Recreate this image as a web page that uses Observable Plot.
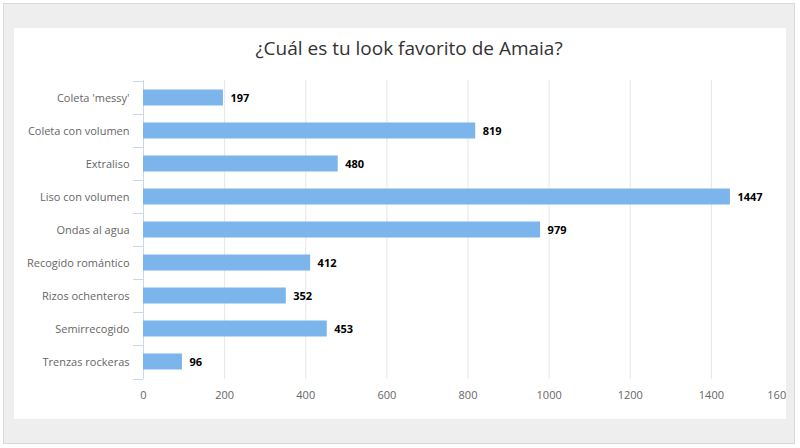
<!DOCTYPE html>
<html>
<head>
<meta charset="utf-8">
<script src="https://cdn.jsdelivr.net/npm/d3@7"></script>
<script src="https://cdn.jsdelivr.net/npm/@observablehq/plot@0.6"></script>
<style>
  html, body { margin: 0; padding: 0; background: #fff; }
  body { width: 800px; height: 448px; position: relative; overflow: hidden; font-family: "Open Sans", sans-serif; }
  #outer { position: absolute; left: 3px; top: 3px; width: 790px; height: 439px; background: #eeeeee; border: 1px solid #d9d9d9; }
  #panel { position: absolute; left: 14px; top: 28px; width: 772px; height: 391px; background: #fff; overflow: hidden; }
  #title { width: 790px; height: 40px; line-height: 40px; text-align: center; font-size: 19px; color: #333; white-space: nowrap; }
  #chart { width: 790px; }
  #chart svg { display: block; max-width: none !important; }
</style>
</head>
<body>
<div id="outer"></div>
<div id="panel">
  <div id="title">¿Cuál es tu look favorito de Amaia?</div>
  <div id="chart"></div>
</div>
<script>
const categories = ["Coleta 'messy'", "Coleta con volumen", "Extraliso", "Liso con volumen", "Ondas al agua", "Recogido romántico", "Rizos ochenteros", "Semirrecogido", "Trenzas rockeras"];
const values = [197, 819, 480, 1447, 979, 412, 352, 453, 96];
const xTicks = [0, 200, 400, 600, 800, 1000, 1200, 1400, 1600];

const data = categories.map((c, i) => ({cat: c, value: values[i]}));

const bandTicks = (index, scales, vals, dimensions) => {
  const g = d3.create("svg:g");
  const ys = categories.map(c => scales.y(c));
  ys.push(dimensions.height - dimensions.marginBottom);
  const x0 = scales.x(0);
  g.selectAll("line").data(ys).join("line")
    .attr("x1", x0 - 10).attr("x2", x0)
    .attr("y1", d => d + 0.5).attr("y2", d => d + 0.5)
    .attr("stroke", "#ccd6eb");
  return g.node();
};

const lastTick = xTicks[xTicks.length - 1];

const chart = Plot.plot({
  width: 790,
  height: 351,
  marginLeft: 129,
  marginRight: 12,
  marginTop: 12,
  marginBottom: 40,
  style: {fontFamily: "'Open Sans', sans-serif", fontSize: "11px", color: "#666", background: "transparent"},
  x: {domain: [0, lastTick], ticks: xTicks.slice(0, -1), tickFormat: d => String(d), tickSize: 0, tickPadding: 12, label: null},
  y: {domain: categories, padding: 0, tickSize: 0, tickPadding: 14, label: null},
  marks: [
    Plot.ruleX(xTicks, {stroke: "#e6e6e6"}),
    Plot.ruleX([0], {stroke: "#ccd6eb"}),
    bandTicks,
    Plot.barX(data, {x: "value", y: "cat", fill: "#7cb5ec", insetTop: 8.5, insetBottom: 8.5}),
    Plot.text(data, {x: "value", y: "cat", text: d => String(d.value), dx: 7, textAnchor: "start", fontWeight: "bold", fill: "#000", fontSize: 11}),
    Plot.text([lastTick], {x: d => d, frameAnchor: "bottom", lineAnchor: "top", dy: 12, textAnchor: "end", text: d => String(d), fill: "#666", fontSize: 11})
  ]
});
chart.style.maxWidth = "none";
document.getElementById("chart").appendChild(chart);
</script>
</body>
</html>
